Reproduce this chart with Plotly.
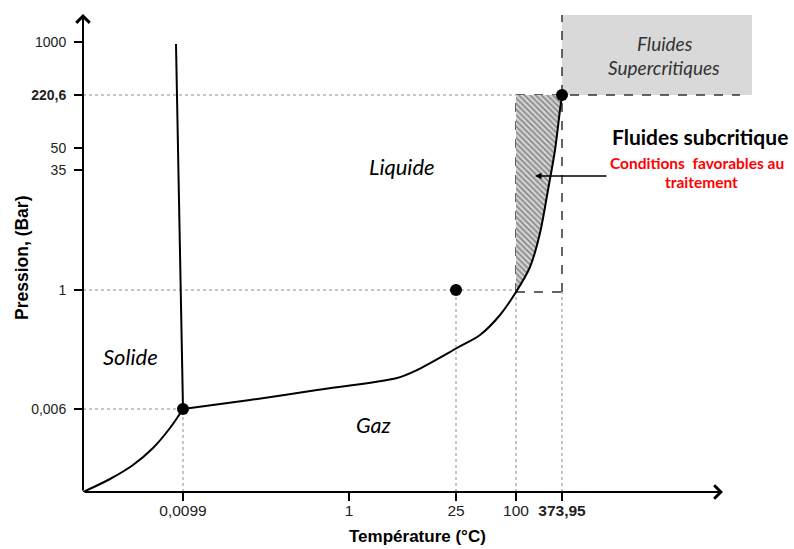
import plotly.graph_objects as go

# ---- schematic axis positions (diagram is not to scale) ----
x_tick_values = [100, 266, 373, 433, 479]
x_tick_labels = ["0,0099", "1", "25", "100", "<b>373,95</b>"]
y_tick_values = [83, 202, 322, 344, 397, 450]
y_tick_labels = ["0,006", "1", "35", "50", "<b>220,6</b>", "1000"]

# ---- phase boundaries ----
sublimation_x = [0, 27, 50, 70, 87, 100]
sublimation_y = [0, 13, 27, 44, 64, 83]
fusion_x = [100, 93]
fusion_y = [83, 448]
vaporisation_x = [100, 167, 234, 314, 334, 374, 397, 417, 433, 447, 457, 465, 472, 477, 479]
vaporisation_y = [83, 92, 102, 114, 122, 144, 157, 177, 200, 225, 259, 302, 342, 382, 397]

# ---- remarkable points ----
point_x = [100, 373, 479]   # triple point, 25 °C / 1 bar, critical point
point_y = [83, 202, 397]

X_MAX, Y_MAX = 672, 482
X_ARROW = 640
T_TRIPLE, T_25, T_100, T_CRIT = 100, 373, 433, 479
P_TRIPLE, P_1, P_CRIT = 83, 202, 397
SUPER_RIGHT, SUPER_TOP, DASH_RIGHT = 669, 477, 657

fig = go.Figure()

DOT = dict(color="#8c8c8c", width=1, dash="dot")
DASH = dict(color="#333333", width=1.5, dash="dash")
shapes = []
# supercritical grey box
shapes.append(dict(type="rect", x0=T_CRIT, x1=SUPER_RIGHT, y0=P_CRIT, y1=SUPER_TOP,
                   fillcolor="#d9d9d9", line=dict(width=0), layer="below"))
# dotted guide lines
for (x0, y0, x1, y1) in [
    (0, P_TRIPLE, T_TRIPLE, P_TRIPLE), (T_TRIPLE, 0, T_TRIPLE, P_TRIPLE),
    (0, P_1, T_100, P_1), (T_25, 0, T_25, P_1),
    (T_100, 0, T_100, 200), (T_CRIT, 0, T_CRIT, 200),
    (0, P_CRIT, T_100, P_CRIT)]:
    shapes.append(dict(type="line", x0=x0, y0=y0, x1=x1, y1=y1, line=DOT, layer="below"))
# dashed box lines
for (x0, y0, x1, y1) in [
    (T_100, 200, T_100, P_CRIT), (T_CRIT, 200, T_CRIT, SUPER_TOP),
    (T_100, 200, T_CRIT, 200), (T_100, P_CRIT, DASH_RIGHT, P_CRIT)]:
    shapes.append(dict(type="line", x0=x0, y0=y0, x1=x1, y1=y1, line=DASH, layer="below"))

# hatched subcritical zone
hx = [T_100, T_CRIT] + [x for x in vaporisation_x if x >= T_100][::-1]
hy = [P_CRIT, P_CRIT] + [y for x, y in zip(vaporisation_x, vaporisation_y) if x >= T_100][::-1]
fig.add_trace(go.Scatter(x=hx, y=hy, mode="lines", fill="toself", line=dict(width=0),
                         fillcolor="rgba(0,0,0,0)",
                         fillpattern=dict(shape="\\", size=4, solidity=0.38,
                                          fgcolor="#333333", bgcolor="#d4d4d4"),
                         hoverinfo="skip", showlegend=False))

LINE = dict(color="black", width=2)
fig.add_trace(go.Scatter(x=sublimation_x, y=sublimation_y, mode="lines",
                         line=dict(LINE, shape="spline"), showlegend=False))
fig.add_trace(go.Scatter(x=fusion_x, y=fusion_y, mode="lines", line=LINE, showlegend=False))
fig.add_trace(go.Scatter(x=vaporisation_x, y=vaporisation_y, mode="lines",
                         line=dict(LINE, shape="spline", smoothing=0.8), showlegend=False))
fig.add_trace(go.Scatter(x=point_x, y=point_y, mode="markers",
                         marker=dict(color="black", size=12), showlegend=False))

ann = []
# axes with arrowheads
ann.append(dict(x=0, y=478, ax=0, ay=0, xref="x", yref="y", axref="x", ayref="y",
                showarrow=True, arrowhead=4, arrowsize=1.3, arrowwidth=2, arrowcolor="black", text=""))
ann.append(dict(x=X_ARROW, y=0, ax=0, ay=0, xref="x", yref="y", axref="x", ayref="y",
                showarrow=True, arrowhead=4, arrowsize=1.3, arrowwidth=2, arrowcolor="black", text=""))
# arrow to hatched zone
ann.append(dict(x=452, y=316, ax=525, ay=316, xref="x", yref="y", axref="x", ayref="y",
                showarrow=True, arrowhead=2, arrowsize=1, arrowwidth=1.3, arrowcolor="black", text=""))

LAB = "Lato, 'Open Sans', sans-serif"
def txt(x, y, t, size, color="black", italic=False, bold=False, family=LAB, yref="y", xref="x", angle=0):
    if bold:
        t = "<b>" + t + "</b>"
    if italic:
        t = "<i>" + t + "</i>"
    ann.append(dict(x=x, y=y, xref=xref, yref=yref, text=t, showarrow=False, textangle=angle,
                    xanchor="center", yanchor="middle",
                    font=dict(size=size, color=color, family=family)))

txt(319, 326, "Liquide", 22, italic=True)
txt(47, 136, "Solide", 22, italic=True)
txt(290, 67, "Gaz", 21.5, italic=True)
txt(582, 449, "Fluides", 19, color="#333333", italic=True)
txt(581, 425, "Supercritiques", 19, color="#333333", italic=True)
txt(617, 356, "Fluides subcritique", 21, bold=True)
txt(614, 329, "Conditions  favorables au", 15.5, color="#ff0000", bold=True)
txt(618, 310, "traitement", 15.5, color="#ff0000", bold=True)
# axis titles
PLOT_W = 794 - 83 - 39
txt(334, -0.093, "Température (°C)", 17, bold=True,
    family="'Liberation Sans Narrow', Arial, sans-serif", yref="paper")
txt(-61 / PLOT_W, 234, "Pression, (Bar)", 17.5, bold=True,
    family="Arial, 'Liberation Sans', sans-serif", xref="paper", angle=-90)

fig.update_layout(
    width=794, height=549,
    margin=dict(l=83, r=39, t=10, b=57),
    plot_bgcolor="white", paper_bgcolor="white",
    shapes=shapes, annotations=ann,
    xaxis=dict(range=[0, X_MAX], showgrid=False, zeroline=False, showline=False,
               tickvals=x_tick_values, ticktext=x_tick_labels, ticks="outside",
               ticklen=8, tickwidth=1.5, tickcolor="black", ticklabelstandoff=-4,
               tickfont=dict(size=15.5, color="#222", family="'Liberation Sans Narrow', Arial, sans-serif")),
    yaxis=dict(range=[0, Y_MAX], showgrid=False, zeroline=False, showline=False,
               tickvals=y_tick_values, ticktext=y_tick_labels, ticks="outside",
               ticklen=8, tickwidth=1.5, tickcolor="black", ticklabelstandoff=5,
               tickfont=dict(size=14, color="#222", family="Arial, 'Liberation Sans', sans-serif")),
)

fig.write_html("out.html", config={"displayModeBar": False},
               post_script="document.body.style.margin='0';")
